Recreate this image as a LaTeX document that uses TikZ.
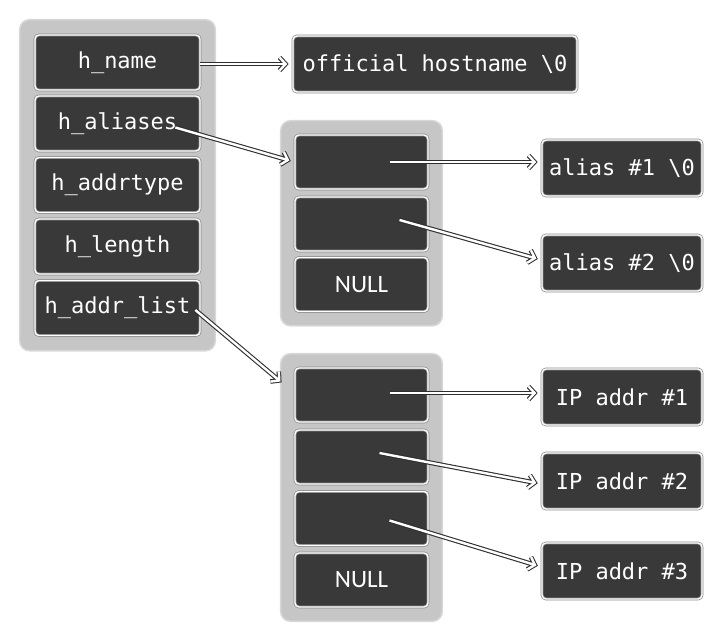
\documentclass[tikz,border=0pt]{standalone}
\usepackage{fontspec}
\usepackage{tikz}
\usetikzlibrary{arrows.meta,positioning,fit,calc,backgrounds}
\newfontfamily\cellmono{DejaVu Sans Mono}
\newfontfamily\cellsans{Carlito}
\definecolor{cellfill}{HTML}{393939}
\definecolor{trayfill}{HTML}{C6C6C6}
\definecolor{trayedge}{HTML}{D8D8D8}
\definecolor{rimgray}{HTML}{8A8A8A}
\definecolor{wiregray}{HTML}{2E2E2E}
\tikzset{
  cell/.style={rectangle, rounded corners=4pt, fill=cellfill, draw=rimgray, double=white, double distance=1.4pt, line width=0.7pt, text=white, font=\cellmono\fontsize{22}{26}\selectfont, inner sep=0pt},
  nullcell/.style={cell, font=\cellsans\fontsize{25}{28}\selectfont},
  tray/.style={rounded corners=10pt, fill=trayfill, draw=trayedge, line width=1.5pt},
  ptr/.style={draw=wiregray, line width=4.6pt, -{Straight Barb[length=6pt,width=13pt]}, shorten >=4pt,
    postaction={draw=white, line width=2.4pt, -{Straight Barb[length=6pt,width=13pt]}, shorten >=5.4pt}}
}

\begin{document}
\begin{tikzpicture}[x=1pt, y=-1pt, every node/.style={align=center}]
  \useasboundingbox (0,0) rectangle (710,636);

  \foreach \n/\y/\t in {n1/62.5/h\_name, n2/123.5/h\_aliases, n3/185/h\_addrtype, n4/246.5/h\_length, n5/308/h\_addr\_list}
    \node[cell, minimum width=165pt, minimum height=55pt] (\n) at (117.5,\y) {\t};

  \node[cell, minimum width=284pt, minimum height=56pt] (host) at (435,64) {official hostname \textbackslash0};

  \foreach \n/\y in {m1/162, m2/224}
    \node[cell, minimum width=133pt, minimum height=54pt] (\n) at (361.5,\y) {};
  \node[nullcell, minimum width=133pt, minimum height=54pt] (m3) at (361.5,284.5) {NULL};

  \foreach \n/\y in {b1/395, b2/457, b3/518.5}
    \node[cell, minimum width=133pt, minimum height=54pt] (\n) at (361.5,\y) {};
  \node[nullcell, minimum width=133pt, minimum height=54pt] (b4) at (361.5,580) {NULL};

  \foreach \n/\y/\t in {a1/168/alias \#1 \textbackslash0, a2/263/alias \#2 \textbackslash0, ip1/397/IP addr \#1, ip2/481/IP addr \#2, ip3/571/IP addr \#3}
    \node[cell, minimum width=160pt, minimum height=56pt] (\n) at (622,\y) {\t};

  \begin{scope}[on background layer]
    \node[tray, fit=(n1)(n5), inner sep=15pt] (hostent) {};
    \node[tray, fit=(m1)(m3), inner sep=14pt] (aliaslist) {};
    \node[tray, fit=(b1)(b4), inner sep=14pt] (addrlist) {};
  \end{scope}

  \draw[ptr] (n1.east |- host) -- (host.west);
  \draw[ptr] ([shift={(-25,4)}]n2.east) -- (m1.west);
  \draw[ptr] ([shift={(-5,2)}]n5.east) -- ([shift={(-10,-10)}]b1.west);
  \draw[ptr] ([shift={(28,0)}]m1.center) -- (m1 -| a1.west);
  \draw[ptr] ([shift={(38,-4)}]m2.center) -- ([shift={(0,-3)}]a2.west);
  \draw[ptr] ([shift={(28,-2)}]b1.center) -- ([shift={(0,-2)}]b1 -| ip1.west);
  \draw[ptr] ([shift={(18,-4)}]b2.center) -- ([shift={(0,3)}]ip2.west);
  \draw[ptr] ([shift={(28,2)}]b3.center) -- ([shift={(0,-4)}]ip3.west);
\end{tikzpicture}
\end{document}
